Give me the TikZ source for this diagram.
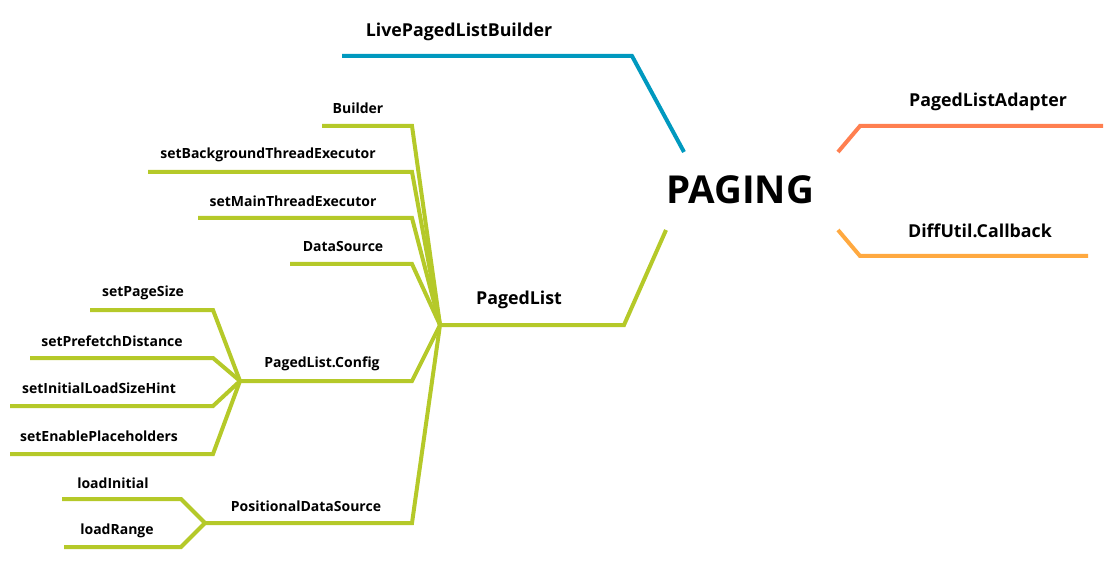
\documentclass[tikz,border=0pt]{standalone}
\usepackage{fontspec}
\setmainfont{Open Sans}
\usetikzlibrary{positioning,calc}
\definecolor{liveteal}{RGB}{0,153,191}
\definecolor{adaptercoral}{RGB}{255,127,80}
\definecolor{diffamber}{RGB}{255,169,64}
\definecolor{pagedlime}{RGB}{181,201,41}

\begin{document}
\begin{tikzpicture}[
    x=1pt, y=-1pt,
    branch/.style={line width=4pt, line join=miter},
    root/.style={font=\fontsize{38.5}{42}\selectfont\bfseries},
    topic/.style={font=\fontsize{17.8}{20}\selectfont\bfseries, inner sep=0pt},
    leaf/.style={font=\fontsize{14}{16}\selectfont\bfseries, inner sep=0pt}
]
\useasboundingbox (0,0) rectangle (1113,561);

% Root
\node[root] (paging) at (740, 190) {PAGING};

% Main topics
\node[topic] (live) at (459, 32) {LivePagedListBuilder};
\node[topic] (adapter) at (988, 102) {PagedListAdapter};
\node[topic] (diff) at (980, 231) {DiffUtil.Callback};
\node[topic] (paged) at (519, 300) {PagedList};

% Hubs where sub-branches meet
\coordinate (plHub) at (440, 325);
\coordinate (cfgHub) at (240, 381);
\coordinate (posHub) at (205, 523);

% Branches from the root
\draw[branch, liveteal] (342, 56) coordinate (liveEnd) -- (632, 56) -- (684, 152) coordinate (liveRoot);
\draw[branch, adaptercoral] (838, 152) coordinate (adapterRoot) -- (860, 126) -- (1103, 126) coordinate (adapterEnd);
\draw[branch, diffamber] (838, 230) coordinate (diffRoot) -- (860, 256) -- (1088, 256) coordinate (diffEnd);
\draw[branch, pagedlime] (666, 230) coordinate (pagedRoot) -- (624, 325) -- (plHub);

% PagedList children
\node[leaf] (builder) at (358, 108) {Builder};
\node[leaf] (bgExec) at (268, 155) {setBackgroundThreadExecutor};
\node[leaf] (mainExec) at (293, 201) {setMainThreadExecutor};
\node[leaf] (dataSrc) at (343, 246) {DataSource};
\node[leaf] (config) at (322, 364) {PagedList.Config};
\node[leaf] (posSrc) at (306, 506) {PositionalDataSource};

\draw[branch, pagedlime] (322, 126) -- (412, 126) -- (plHub);
\draw[branch, pagedlime] (148, 172) -- (412, 172) -- (plHub);
\draw[branch, pagedlime] (198, 218) -- (412, 218) -- (plHub);
\draw[branch, pagedlime] (290, 264) -- (412, 264) -- (plHub);
\draw[branch, pagedlime] (plHub) -- (412, 381) -- (cfgHub);
\draw[branch, pagedlime] (plHub) -- (412, 523) -- (posHub);

% PagedList.Config children
\node[leaf] (pageSize) at (143, 293) {setPageSize};
\node[leaf] (prefetch) at (112, 341) {setPrefetchDistance};
\node[leaf] (initHint) at (99, 388) {setInitialLoadSizeHint};
\node[leaf] (placeholders) at (99, 436) {setEnablePlaceholders};

\draw[branch, pagedlime] (90, 310) -- (213, 310) -- (cfgHub);
\draw[branch, pagedlime] (30, 358) -- (213, 358) -- (cfgHub);
\draw[branch, pagedlime] (10, 406) -- (213, 406) -- (cfgHub);
\draw[branch, pagedlime] (10, 454) -- (213, 454) -- (cfgHub);

% PositionalDataSource children
\node[leaf] (loadInit) at (113, 483) {loadInitial};
\node[leaf] (loadRange) at (117, 531) {loadRange};

\draw[branch, pagedlime] (62, 499) -- (181, 499) -- (posHub);
\draw[branch, pagedlime] (64, 547) -- (181, 547) -- (posHub);

\end{tikzpicture}
\end{document}
